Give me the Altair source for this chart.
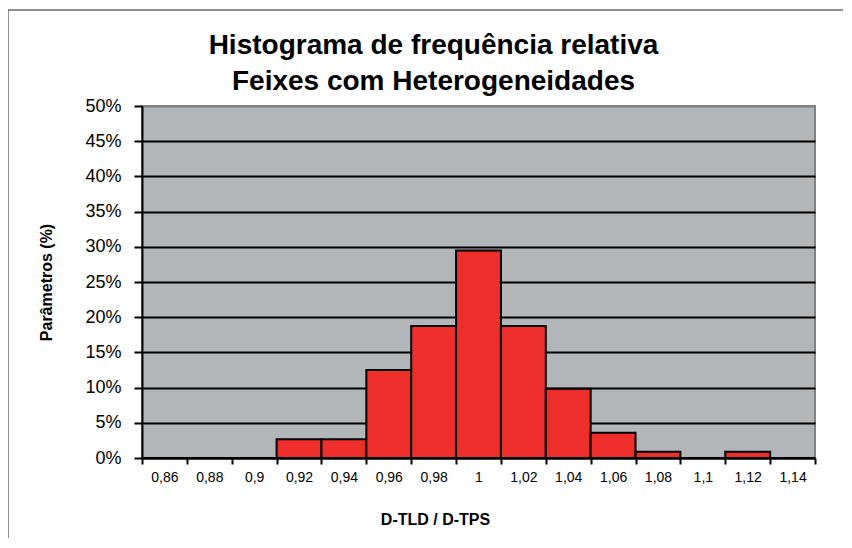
import altair as alt
import pandas as pd

categories = ["0,86", "0,88", "0,9", "0,92", "0,94", "0,96", "0,98", "1",
              "1,02", "1,04", "1,06", "1,08", "1,1", "1,12", "1,14"]
freq_pct = [0, 0, 0, 2.68, 2.68, 12.5, 18.75, 29.46, 18.75, 9.82, 3.57, 0.89, 0, 0.89, 0]

df = pd.DataFrame({"cat": categories, "freq": [v / 100 for v in freq_pct]})

FONT = "Liberation Sans"
W, H = 673, 352
PL, PT = 134, 98

bars = alt.Chart(df).mark_bar(
    fill="#EE2E2A", stroke="black", strokeWidth=2
).encode(
    x=alt.X("cat:N", sort=categories,
            scale=alt.Scale(paddingInner=0, paddingOuter=0),
            axis=alt.Axis(title="D-TLD / D-TPS", labelAngle=0, tickBand="extent",
                          labelFontSize=14, labelFont=FONT, labelColor="black",
                          labelPadding=6, tickSize=6, tickColor="black", tickWidth=2,
                          domainColor="black", domainWidth=2, grid=False,
                          titleFont=FONT, titleFontSize=16, titleFontWeight="bold",
                          titleColor="black", titleX=293, titleY=66,
                          titleAlign="center", titleBaseline="alphabetic")),
    y=alt.Y("freq:Q", scale=alt.Scale(domain=[0, 0.5], nice=False),
            axis=alt.Axis(title="Parâmetros (%)", format=".0%",
                          values=[i / 100 for i in range(0, 51, 5)],
                          labelFontSize=18, labelFont=FONT, labelColor="black",
                          labelPadding=13, tickSize=8, tickColor="black", tickWidth=2,
                          domainColor="black", domainWidth=2,
                          grid=True, gridWidth=2,
                          gridColor=alt.condition("datum.value >= 0.5",
                                                  alt.value("#808080"),
                                                  alt.value("black")),
                          titleFont=FONT, titleFontSize=16, titleFontWeight="bold",
                          titleColor="black", titleX=-96, titleY=176,
                          titleAlign="center", titleBaseline="middle", titleAngle=-90)),
)

frame_top = alt.Chart(alt.Data(values=[{}])).mark_rule(
    color="#222222", strokeWidth=1
).encode(x=alt.value(-PL), x2=alt.value(W + 60), y=alt.value(-96))

frame_left = alt.Chart(alt.Data(values=[{}])).mark_rule(
    color="#222222", strokeWidth=1
).encode(x=alt.value(-134), y=alt.value(-96), y2=alt.value(H + 200))

chart = alt.layer(bars, frame_top, frame_left).properties(
    width=W, height=H,
    autosize=alt.AutoSizeParams(type="none"),
    padding={"left": PL, "top": PT, "right": 28, "bottom": 80},
    background="white",
    title=alt.TitleParams(
        text=["Histograma de frequência relativa", "Feixes com Heterogeneidades"],
        font=FONT, fontSize=28, fontWeight="bold", color="black",
        anchor="middle", dx=-45, offset=0, dy=86, lineHeight=36,
    ),
).configure_view(
    fill="#B3B6B9", stroke="#808080", strokeWidth=2
)

chart.save("out.html", embed_options={"renderer": "svg", "actions": False})
